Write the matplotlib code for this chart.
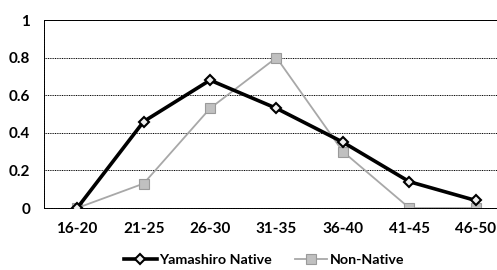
import matplotlib
matplotlib.use('Agg')
from matplotlib import pyplot as plt

# age groups and share of each group
ages = ['16-20', '21-25', '26-30', '31-35', '36-40', '41-45', '46-50']
native = [0.0, 0.46, 0.68, 0.53, 0.35, 0.14, 0.04]
non_native = [0.0, 0.13, 0.53, 0.80, 0.30, 0.0, 0.0]
yticks = [0, 0.2, 0.4, 0.6, 0.8, 1]
ytick_labels = ['0', '0.2', '0.4', '0.6', '0.8', '1']

plt.rcParams['font.family'] = ['Lato', 'DejaVu Sans']

fig = plt.figure(figsize=(4.97, 2.70), dpi=100)
ax = fig.add_axes([44 / 497, 1 - 208 / 270, 465 / 497, 188 / 270])

x = range(len(ages))
ax.plot(x, native, color='black', lw=2.6, marker='D', ms=5.5,
        mfc='#f0f0f0', mec='black', mew=1.5, label='Yamashiro Native', zorder=3)
ax.plot(x, non_native, color='#a8a8a8', lw=1.3, marker='s', ms=7.5,
        mfc='#c0c0c0', mec='#9a9a9a', mew=0.8, label='Non-Native', zorder=2)

ax.set_xlim(-0.5, 6.5)
ax.set_ylim(0, 1)
ax.set_yticks(yticks)
ax.set_yticklabels(ytick_labels)
ax.set_xticks(list(x))
ax.set_xticklabels(ages)
for t in ax.get_xticklabels() + ax.get_yticklabels():
    t.set_fontweight('bold')
    t.set_fontsize(11)
ax.tick_params(length=0, pad=10)
ax.tick_params(axis='x', pad=10)

ax.grid(axis='y', color='black', ls=(0, (1, 0.8)), lw=0.7)
for s in ['left', 'top', 'bottom']:
    ax.spines[s].set_linestyle((0, (1, 0.8)))
    ax.spines[s].set_linewidth(0.7)
ax.spines['right'].set_visible(False)

leg = fig.legend(loc='center', bbox_to_anchor=(264 / 497, 1 - 260 / 270), ncol=2,
                 frameon=False, handlelength=2.3, handletextpad=0.15,
                 columnspacing=1.6, borderpad=0, prop={'weight': 'bold', 'size': 10.3})

fig.savefig('out.png', dpi=100)
